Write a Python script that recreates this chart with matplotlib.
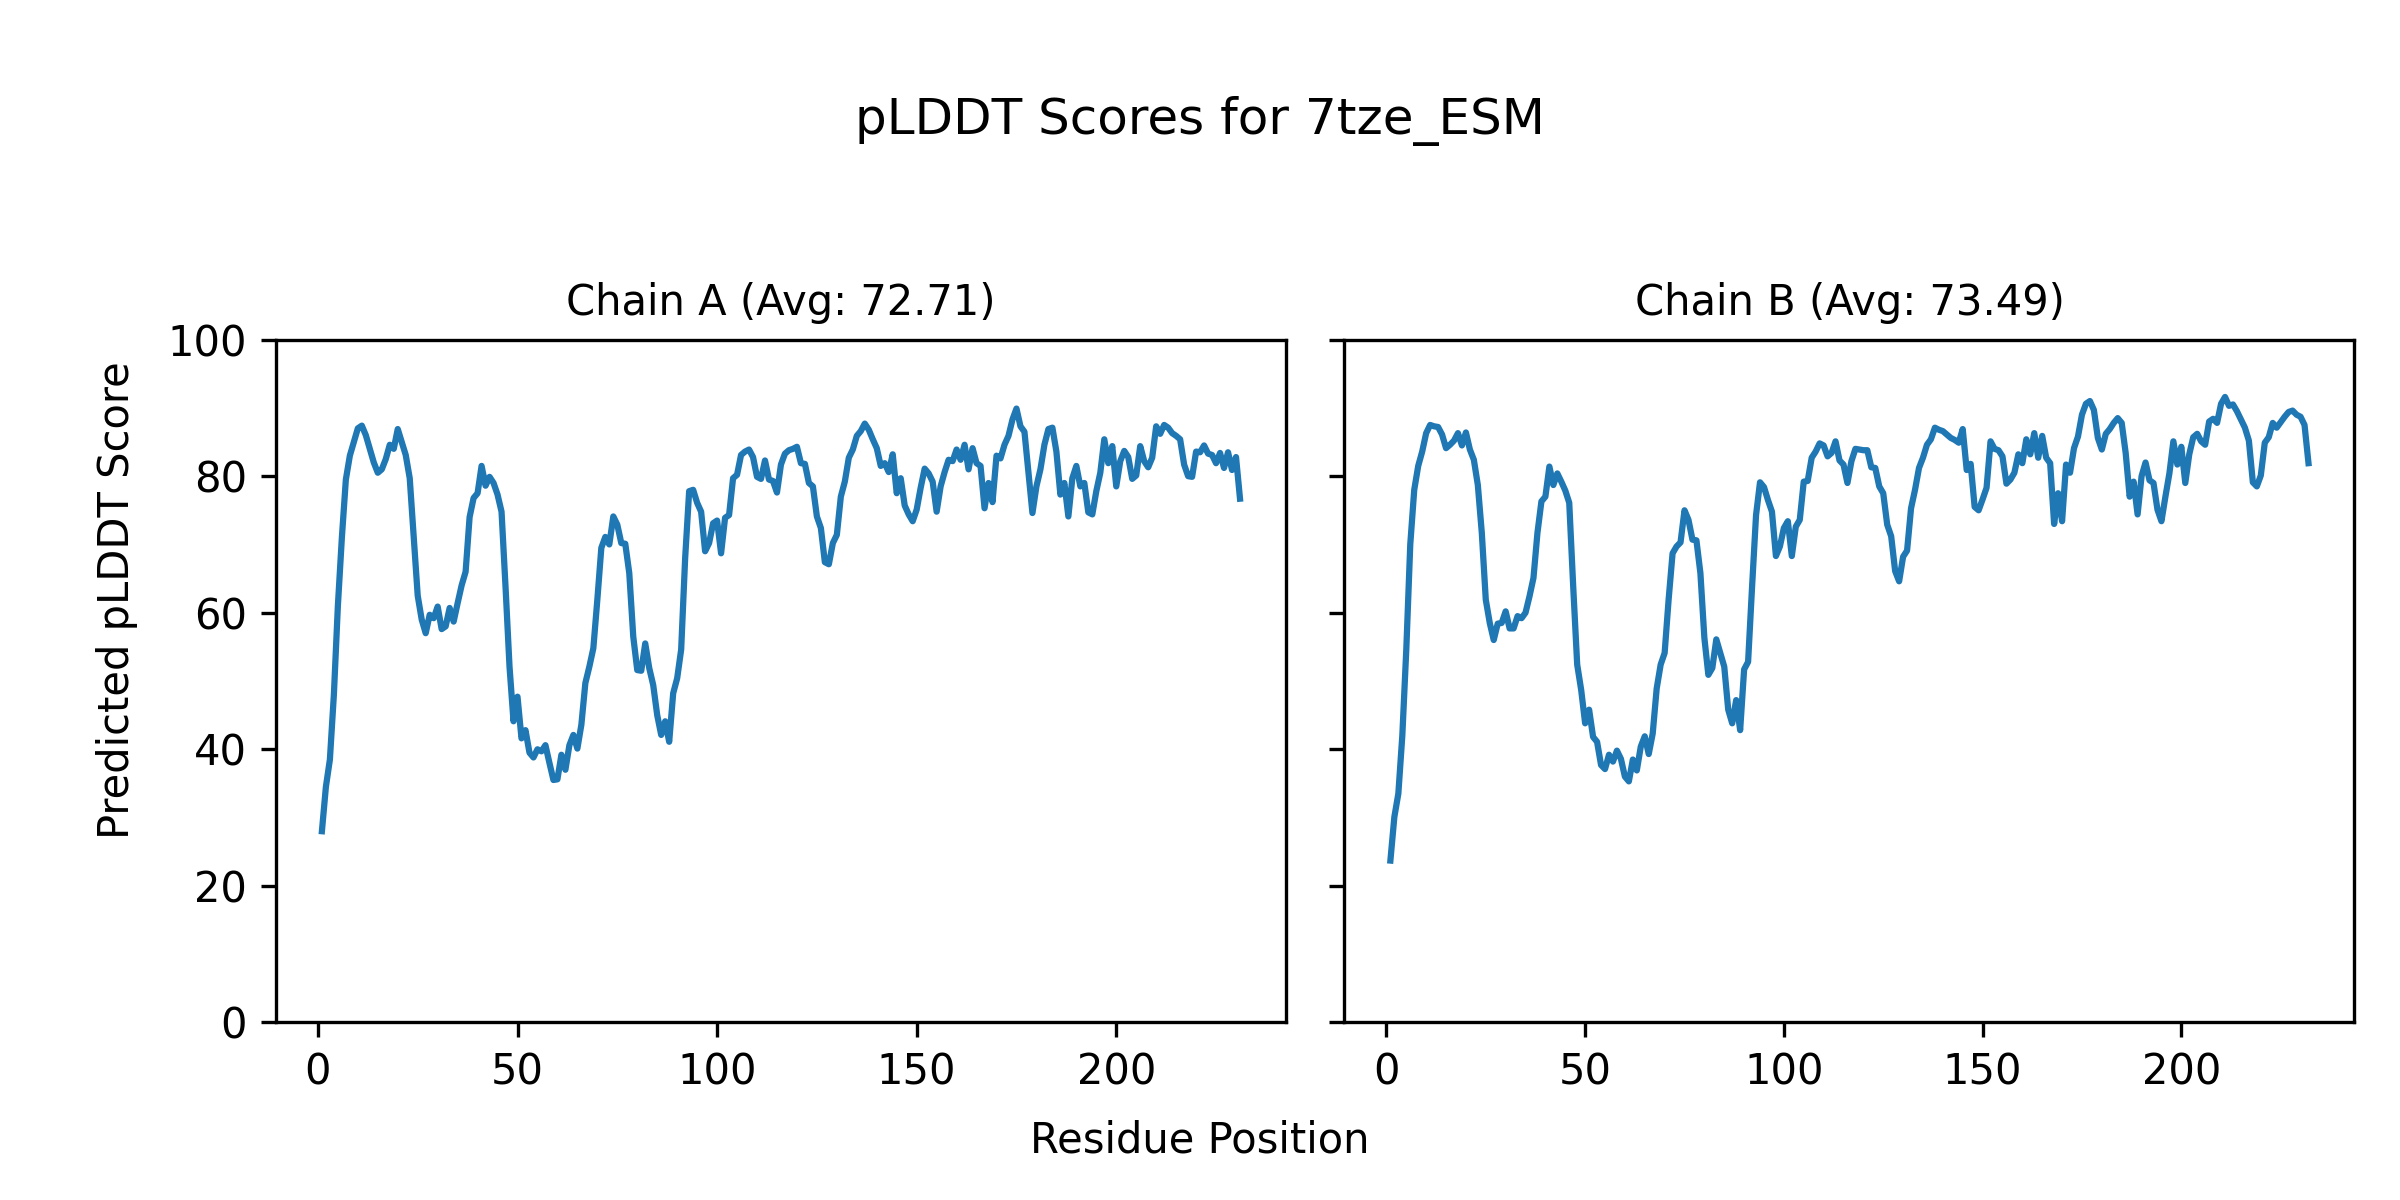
import matplotlib

matplotlib.use("Agg")

import matplotlib.pyplot as plt  # noqa: E402
import numpy as np  # noqa: E402

protein = "7tze_ESM"

# per-residue pLDDT
chain_a = [
    28.0, 34.5, 38.5, 48.0, 61.0, 71.0, 79.5, 83.0, 85.0, 87.0,
    87.4, 86.0, 84.0, 82.0, 80.5, 81.0, 82.5, 84.6, 84.0, 86.9,
    85.0, 83.1, 79.7, 71.0, 62.5, 59.0, 57.0, 59.7, 59.2, 60.9,
    57.6, 58.0, 60.7, 58.7, 61.4, 64.0, 66.0, 74.0, 76.8, 77.5,
    81.5, 78.6, 79.9, 79.0, 77.3, 74.8, 63.8, 52.1, 44.1, 47.7,
    41.6, 42.8, 39.5, 38.8, 40.0, 39.7, 40.6, 38.0, 35.5, 35.6,
    39.2, 37.0, 40.6, 42.1, 40.1, 43.6, 49.7, 52.1, 54.8, 61.9,
    69.5, 71.1, 70.0, 74.1, 72.9, 70.2, 70.1, 65.8, 56.5, 51.6,
    51.5, 55.5, 51.9, 49.4, 45.0, 42.1, 44.1, 41.1, 48.2, 50.4,
    54.6, 68.0, 77.8, 78.0, 76.1, 74.8, 69.0, 70.2, 73.1, 73.5,
    68.7, 73.9, 74.3, 79.7, 80.2, 83.1, 83.6, 83.9, 82.8, 79.9,
    79.6, 82.3, 79.5, 79.3, 77.6, 81.7, 83.3, 83.8, 84.0, 84.3,
    81.9, 81.8, 79.0, 78.5, 74.1, 72.4, 67.4, 67.1, 70.2, 71.4,
    77.0, 79.2, 82.7, 83.9, 85.9, 86.6, 87.7, 86.8, 85.4, 84.1,
    81.5, 81.9, 80.6, 83.2, 77.5, 79.7, 75.7, 74.4, 73.4, 75.1,
    78.3, 81.1, 80.4, 79.2, 74.8, 78.5, 80.6, 82.4, 82.2, 83.9,
    82.4, 84.6, 81.0, 84.1, 81.9, 81.5, 75.3, 79.0, 76.2, 83.0,
    82.6, 84.6, 85.9, 88.3, 89.9, 87.3, 86.5, 80.5, 74.6, 78.5,
    81.0, 84.6, 86.9, 87.1, 83.6, 77.3, 79.0, 74.1, 79.7, 81.5,
    78.5, 79.0, 74.7, 74.4, 77.8, 80.5, 85.4, 81.9, 84.4, 78.5,
    82.2, 83.7, 82.8, 79.6, 80.1, 84.4, 82.2, 81.3, 82.7, 87.3,
    86.2, 87.5, 87.1, 86.3, 85.9, 85.4, 81.7, 80.0, 79.9, 83.6,
    83.5, 84.5, 83.3, 83.1, 81.9, 83.4, 81.2, 83.5, 80.9, 82.8,
    76.7,
]

chain_b = [
    23.7, 30.1, 33.5, 42.0, 54.6, 70.0, 78.0, 81.5, 83.6, 86.3,
    87.5, 87.3, 87.2, 86.1, 84.1, 84.6, 85.2, 86.3, 84.5, 86.4,
    83.9, 82.4, 78.7, 71.7, 61.9, 58.5, 56.0, 58.4, 58.5, 60.2,
    57.7, 57.7, 59.5, 59.2, 60.0, 62.4, 65.1, 71.7, 76.3, 77.0,
    81.4, 78.7, 80.4, 79.2, 77.9, 76.1, 63.8, 52.4, 48.7, 43.8,
    45.8, 41.8, 41.1, 37.7, 37.1, 39.2, 38.2, 39.8, 38.6, 36.0,
    35.3, 38.5, 36.9, 40.4, 41.9, 39.3, 42.3, 48.9, 52.4, 54.1,
    61.9, 68.7, 69.7, 70.3, 75.0, 73.6, 70.7, 70.6, 65.8, 56.3,
    50.9, 51.9, 56.1, 54.1, 52.1, 45.8, 43.8, 47.2, 42.8, 51.7,
    52.8, 63.8, 74.3, 79.1, 78.4, 76.5, 74.8, 68.3, 69.7, 72.4,
    73.4, 68.3, 72.6, 73.6, 79.2, 79.3, 82.7, 83.6, 84.8, 84.5,
    82.9, 83.4, 85.1, 82.3, 81.7, 79.0, 82.2, 84.0, 83.9, 83.8,
    83.8, 81.3, 81.2, 78.5, 77.5, 72.9, 71.2, 66.1, 64.6, 68.2,
    69.1, 75.3, 78.0, 81.2, 82.7, 84.6, 85.4, 87.1, 86.8, 86.6,
    86.1, 85.6, 85.3, 84.9, 86.9, 80.9, 81.8, 75.5, 75.0, 76.6,
    78.3, 85.1, 84.0, 83.8, 82.9, 78.9, 79.5, 80.5, 83.2, 81.9,
    85.4, 83.2, 86.3, 82.7, 85.9, 82.7, 81.9, 73.0, 77.5, 73.4,
    81.7, 80.5, 84.1, 85.8, 89.0, 90.6, 91.0, 89.7, 85.6, 83.9,
    86.2, 86.9, 87.8, 88.5, 87.8, 83.4, 77.0, 79.2, 74.4, 80.0,
    82.0, 79.4, 79.0, 75.1, 73.4, 77.0, 80.4, 85.1, 81.7, 84.3,
    79.0, 83.2, 85.7, 86.2, 85.1, 84.6, 88.0, 88.4, 87.8, 90.6,
    91.6, 90.3, 90.5, 89.5, 88.3, 87.1, 85.2, 79.1, 78.5, 80.1,
    84.9, 85.7, 87.8, 87.1, 87.9, 88.7, 89.4, 89.6, 89.0, 88.7,
    87.5, 81.9,
]

chain_names = ["A", "B"]
chain_avgs = [72.71, 73.49]  # as printed in the panel titles

fig, axes = plt.subplots(1, 2, figsize=(8, 4), sharey=True)
fig.subplots_adjust(left=0.115, right=0.981, top=0.717, bottom=0.148, wspace=0.058)

for ax, name, scores, avg in zip(axes, chain_names, [chain_a, chain_b], chain_avgs):
    residues = np.arange(1, len(scores) + 1)
    ax.plot(residues, scores, color="tab:blue", linewidth=1.5)
    ax.set_title(f"Chain {name} (Avg: {avg:.2f})", fontsize=10)
    ax.set_ylim(0, 100)
    ax.set_xticks([0, 50, 100, 150, 200])

fig.suptitle(f"pLDDT Scores for {protein}", fontsize=12, y=0.92)
fig.supxlabel("Residue Position", fontsize=10, y=0.032)
fig.supylabel("Predicted pLDDT Score", fontsize=10, x=0.04)

fig.savefig("out.png", dpi=300)
plt.close(fig)
